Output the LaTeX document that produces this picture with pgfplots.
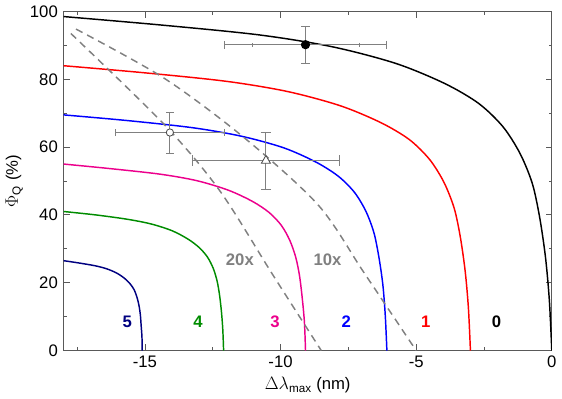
\documentclass[border=0pt]{standalone}
\usepackage{pgfplots}
\pgfplotsset{compat=1.18}
\usepackage{fontspec}
\setmainfont{Liberation Sans}
\begin{document}
\fontsize{16}{19}\selectfont
\begin{tikzpicture}
\begin{axis}[scale only axis, width=468pt, height=325pt,
 xmin=-18, xmax=0, ymin=0, ymax=100,
 xtick={-15,-10,-5,0}, minor xtick={-17.5,-12.5,-7.5,-2.5},
 ytick={0,20,...,100}, minor ytick={10,30,...,90},
 tick align=inside, major tick length=6pt, minor tick length=3pt,
 axis line style={gray!70!black, line width=1pt}, every tick/.style={gray!70!black, line width=0.8pt},
 /pgf/number format/assume math mode=true,
 xlabel={$\Delta\lambda_{\mathrm{max}}$ (nm)}, ylabel={$\Phi_{\mathrm{Q}}$ (\%)},
 xlabel style={yshift=2pt}, ylabel style={yshift=-4pt},
 every axis plot/.append style={line width=1.4pt},
 label style={font=\fontsize{16}{19}\selectfont}, tick label style={font=\fontsize{16}{19}\selectfont},
]
\addplot[black, smooth] coordinates {(-18,98.5)(-14.4,96.0)(-10.8,93.1)(-8.1,89.6)(-5.76,84.7)(-3.96,78.8)(-2.7,72.9)(-1.8,66.0)(-1.17,58.1)(-0.72,49.3)(-0.45,39.4)(-0.234,27.6)(-0.09,14.8)(0,0)};
\addplot[red, smooth] coordinates {(-18,84)(-15,81.9)(-12,79.4)(-9.75,76.4)(-7.8,72.2)(-6.3,67.2)(-5.25,62.2)(-4.5,56.3)(-3.975,49.6)(-3.6,42)(-3.375,33.6)(-3.195,23.5)(-3.075,12.6)(-3,0)};
\addplot[blue, smooth] coordinates {(-18,69.5)(-15.62,67.8)(-13.23,65.7)(-11.44,63.2)(-9.89,59.8)(-8.70,55.6)(-7.87,51.4)(-7.27,46.6)(-6.85,41.0)(-6.56,34.8)(-6.38,27.8)(-6.23,19.5)(-6.14,10.4)(-6.08,0)};
\addplot[magenta, smooth] coordinates {(-18,55)(-16.22,53.6)(-14.43,52.0)(-13.09,50.1)(-11.93,47.3)(-11.04,44)(-10.42,40.7)(-9.97,36.9)(-9.66,32.5)(-9.44,27.5)(-9.30,22)(-9.20,15.4)(-9.12,8.3)(-9.08,0)};
\addplot[green!55!black, smooth] coordinates {(-18,41)(-16.82,40)(-15.64,38.7)(-14.76,37.3)(-13.99,35.3)(-13.40,32.8)(-12.99,30.3)(-12.69,27.5)(-12.48,24.2)(-12.34,20.5)(-12.25,16.4)(-12.18,11.5)(-12.13,6.2)(-12.1,0)};
\addplot[blue!50!black, smooth] coordinates {(-18,26.5)(-17.42,25.8)(-16.84,25.0)(-16.41,24.1)(-16.03,22.8)(-15.74,21.2)(-15.54,19.6)(-15.39,17.8)(-15.29,15.6)(-15.22,13.3)(-15.17,10.6)(-15.14,7.4)(-15.11,4.0)(-15.1,0)};
\addplot[gray, dash pattern=on 7pt off 5pt, smooth] coordinates {(-17.73,93.5)(-14.27,66.5)(-12.23,47)(-10.3,22.5)(-8.5,0)};
\addplot[gray, dash pattern=on 7pt off 5pt, smooth] coordinates {(-17.54,94.8)(-14.27,80.2)(-11.3,62.5)(-8.6,42.8)(-6.96,23.4)(-5.42,5)(-5.0,0)};
\addplot[gray, line width=0.8pt, mark=*, mark size=4pt, mark options={fill=black,draw=black}, error bars/.cd, x dir=both, x explicit, y dir=both, y explicit, error bar style={line width=0.8pt}]
 coordinates {(-9.08,90.2) +- (2.98,5.4)};
\addplot[gray, line width=0.8pt, draw=none, mark=none, error bars/.cd, x dir=both, x explicit, error bar style={line width=0.8pt}]
 coordinates {(-9.08,90.2) +- (1.98,0)};
\addplot[gray, line width=0.8pt, mark=*, mark size=3.5pt, mark options={fill=white,draw=black!70}, error bars/.cd, x dir=both, x explicit, y dir=both, y explicit, error bar style={line width=0.8pt}]
 coordinates {(-14.08,64.3) +- (2,6)};
\addplot[gray, line width=0.8pt, mark=triangle*, mark size=5pt, mark options={fill=white,draw=black!70}, error bars/.cd, x dir=both, x explicit, y dir=both, y explicit, error bar style={line width=0.8pt}]
 coordinates {(-10.54,56) +- (2.7,8.3)};
\node[font=\bfseries, text=blue!50!black] at (axis cs:-15.65,8.6) {5};
\node[font=\bfseries, text=green!55!black] at (axis cs:-13.04,8.6) {4};
\node[font=\bfseries, text=magenta] at (axis cs:-10.2,8.6) {3};
\node[font=\bfseries, text=blue] at (axis cs:-7.58,8.6) {2};
\node[font=\bfseries, text=red] at (axis cs:-4.65,8.6) {1};
\node[font=\bfseries, text=black] at (axis cs:-2.04,8.6) {0};
\node[font=\bfseries, text=gray] at (axis cs:-11.5,26.8) {20x};
\node[font=\bfseries, text=gray] at (axis cs:-8.27,26.8) {10x};
\end{axis}
\end{tikzpicture}
\end{document}
